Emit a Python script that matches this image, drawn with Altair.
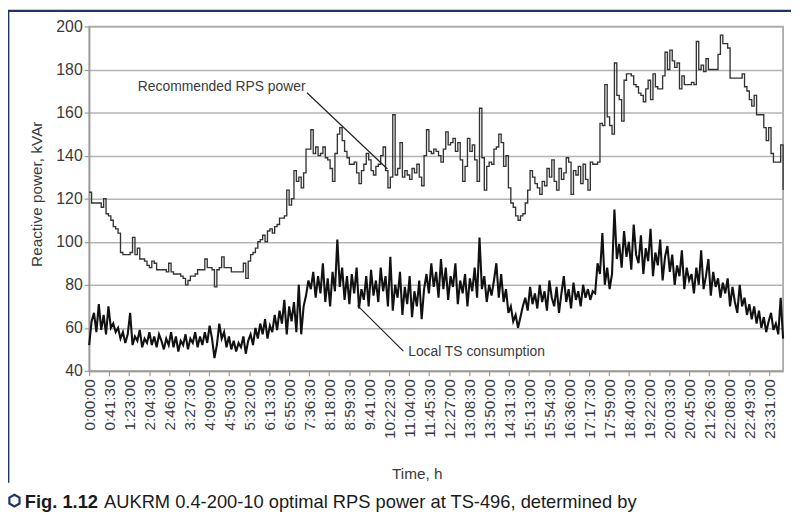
import altair as alt
import pandas as pd

FONT = "Liberation Sans, Arial, sans-serif"

# x grid: one reading every 5 minutes, 0 .. 1440 min
step_min = 5

# Recommended RPS power, kVAr (12 readings per hour)
rps_by_hour = [
    [123, 118, 118, 118, 118, 116, 120, 113, 112, 110, 107, 106],
    [104, 95, 94, 94, 94, 95, 102, 94, 97, 92, 92, 91],
    [89, 88, 91, 90, 87, 87, 87, 87, 86, 90, 86, 85],
    [85, 85, 84, 83, 80, 82, 84, 84, 85, 87, 87, 87],
    [92, 88, 88, 87, 79, 87, 88, 93, 88, 88, 88, 86],
    [86, 86, 86, 86, 90, 83, 91, 94, 95, 97, 100, 101],
    [103, 100, 105, 106, 104, 107, 108, 111, 111, 112, 124, 117],
    [120, 133, 128, 130, 125, 132, 143, 143, 152, 141, 144, 140],
    [141, 144, 139, 138, 134, 128, 141, 150, 153, 147, 142, 139],
    [136, 136, 137, 132, 127, 133, 136, 141, 138, 133, 131, 135],
    [136, 140, 144, 133, 125, 130, 159, 131, 134, 146, 130, 133],
    [131, 129, 134, 132, 136, 130, 126, 140, 152, 142, 141, 143],
    [142, 140, 137, 143, 151, 145, 146, 148, 142, 146, 138, 128],
    [135, 148, 142, 145, 138, 128, 162, 139, 124, 135, 137, 136],
    [143, 144, 150, 146, 135, 140, 125, 118, 116, 112, 110, 112],
    [113, 118, 124, 133, 130, 127, 125, 122, 128, 126, 134, 130],
    [138, 128, 124, 134, 129, 132, 139, 137, 122, 133, 131, 135],
    [127, 136, 129, 124, 137, 136, 136, 137, 155, 154, 173, 158],
    [154, 150, 183, 168, 166, 156, 175, 178, 178, 177, 173, 172],
    [169, 168, 165, 171, 175, 166, 178, 172, 171, 171, 177, 188],
    [180, 189, 184, 181, 183, 171, 177, 173, 173, 173, 174, 173],
    [193, 180, 182, 179, 185, 180, 180, 180, 180, 187, 196, 192],
    [192, 190, 176, 176, 176, 176, 176, 178, 172, 170, 166, 163],
    [168, 159, 159, 159, 153, 147, 153, 141, 137, 137, 137, 145],
]
rps_end = 124

# Local TS consumption, kVAr (12 readings per hour)
cons_by_hour = [
    [52, 63, 67, 58, 71, 59, 66, 57, 70, 60, 62, 58],
    [60, 55, 58, 53, 57, 67, 52, 56, 54, 59, 51, 55],
    [53, 58, 52, 56, 51, 57, 54, 50, 55, 52, 58, 51],
    [56, 49, 54, 52, 57, 50, 55, 53, 58, 51, 56, 52],
    [58, 53, 61, 55, 46, 52, 62, 55, 58, 51, 56, 50],
    [54, 49, 53, 51, 56, 48, 54, 57, 52, 60, 55, 62],
    [57, 64, 55, 61, 58, 66, 59, 68, 62, 73, 57, 70],
    [63, 72, 58, 80, 57, 70, 75, 82, 78, 86, 74, 84],
    [76, 90, 72, 83, 70, 86, 77, 101, 79, 88, 73, 84],
    [71, 85, 76, 88, 69, 78, 73, 84, 70, 87, 75, 82],
    [72, 88, 77, 84, 70, 93, 68, 80, 74, 86, 66, 79],
    [71, 84, 65, 77, 70, 82, 64, 78, 85, 76, 90, 79],
    [86, 74, 92, 78, 88, 73, 84, 79, 90, 71, 82, 76],
    [85, 70, 83, 77, 88, 74, 102, 78, 84, 72, 80, 75],
    [82, 90, 74, 85, 72, 78, 67, 70, 63, 66, 60, 65],
    [70, 74, 68, 79, 71, 76, 69, 80, 72, 77, 68, 82],
    [74, 70, 79, 67, 76, 84, 72, 78, 69, 81, 73, 77],
    [70, 80, 74, 78, 73, 77, 76, 90, 85, 104, 80, 88],
    [78, 85, 115, 92, 99, 88, 105, 93, 100, 87, 108, 94],
    [90, 103, 85, 97, 91, 106, 84, 95, 89, 101, 82, 93],
    [98, 86, 94, 80, 89, 84, 96, 78, 88, 82, 85, 76],
    [88, 80, 96, 78, 84, 92, 75, 86, 79, 83, 74, 81],
    [76, 83, 70, 79, 72, 67, 80, 70, 74, 66, 71, 64],
    [70, 62, 68, 60, 65, 58, 63, 67, 59, 62, 57, 74],
]
cons_end = 55

tick_labels = ["0:00:00", "0:41:30", "1:23:00", "2:04:30", "2:46:00", "3:27:30",
               "4:09:00", "4:50:30", "5:32:00", "6:13:30", "6:55:00", "7:36:30",
               "8:18:00", "8:59:30", "9:41:00", "10:22:30", "11:04:00", "11:45:30",
               "12:27:00", "13:08:30", "13:50:00", "14:31:30", "15:13:00", "15:54:30",
               "16:36:00", "17:17:30", "17:59:00", "18:40:30", "19:22:00", "20:03:30",
               "20:45:00", "21:26:30", "22:08:00", "22:49:30", "23:31:00"]
tick_step_min = 41.5
y_ticks = [40, 60, 80, 100, 120, 140, 160, 180, 200]

# annotations (minutes, kVAr)
ann_labels = ["Recommended RPS power", "Local TS consumption"]
ann_x = [275, 662]
ann_y = [172, 48.7]
lead_x = [452, 557]
lead_y = [169.2, 70.3]
lead_x2 = [619, 652]
lead_y2 = [133.8, 49.2]

caption_bold = "Fig. 1.12"
caption_rest = "AUKRM 0.4-200-10 optimal RPS power at TS-496, determined by"

# ---------------------------------------------------------------------------
rps = [v for h in rps_by_hour for v in h] + [rps_end]
cons = [v for h in cons_by_hour for v in h] + [cons_end]
minutes = [i * step_min for i in range(len(rps))]

df_rps = pd.DataFrame({"t": minutes, "v": rps})
df_cons = pd.DataFrame({"t": minutes, "v": cons})
df_ann = pd.DataFrame({"label": ann_labels, "t": ann_x, "v": ann_y})
df_lead = pd.DataFrame({"t": lead_x, "v": lead_y, "t2": lead_x2, "v2": lead_y2})
one = pd.DataFrame({"k": [0]})

tick_vals = [i * tick_step_min for i in range(len(tick_labels))]
label_expr = "[" + ",".join("'%s'" % s for s in tick_labels) + "][round(datum.value/%s)]" % tick_step_min

xscale = alt.Scale(domain=[0, 1440], nice=False, zero=False)
yscale = alt.Scale(domain=[40, 200], nice=False, zero=False)

x_axis = alt.Axis(
    values=tick_vals, labelExpr=label_expr, labelAngle=270, grid=False,
    labelOverlap=False, labelFontSize=15.5, labelPadding=3, labelSeparation=0,
    title="Time, h", titleX=331, titleY=104, titleBaseline="middle",
    titleAlign="center")
y_axis = alt.Axis(
    values=y_ticks, grid=True, labelFontSize=16, labelPadding=2,
    labelOverlap=False, title="Reactive power, kVAr",
    titleX=-53.5, titleY=169, titleAngle=270, titleAlign="center",
    titleBaseline="middle")

X = alt.X("t:Q", scale=xscale, axis=x_axis)
Y = alt.Y("v:Q", scale=yscale, axis=y_axis)

line_rps = alt.Chart(df_rps).mark_line(
    interpolate="step-after", color="#333333", strokeWidth=1.35
).encode(x=X, y=Y)

line_cons = alt.Chart(df_cons).mark_line(
    color="#111111", strokeWidth=2.1
).encode(x=X, y=Y)

leaders = alt.Chart(df_lead).mark_rule(color="#222", strokeWidth=1.2).encode(
    x=X, y=Y, x2="t2:Q", y2="v2:Q")

ann1 = alt.Chart(df_ann.iloc[[0]]).mark_text(
    align="center", baseline="middle", font=FONT, fontSize=14, color="#3a3a3a"
).encode(x=X, y=Y, text="label:N")
ann2 = alt.Chart(df_ann.iloc[[1]]).mark_text(
    align="left", baseline="middle", font=FONT, fontSize=14, color="#3a3a3a"
).encode(x=X, y=Y, text="label:N")

NAVY = "#1d3762"
frame_v = alt.Chart(one).mark_rule(color=NAVY, strokeWidth=2.2).encode(
    x=alt.value(-81.7), y=alt.value(-16.5), y2=alt.value(461))
frame_h = alt.Chart(one).mark_rule(color=NAVY, strokeWidth=2.2).encode(
    x=alt.value(-82.8), x2=alt.value(712), y=alt.value(-15.7))

hexagon = alt.Chart(one).mark_point(
    shape="M0,-1L0.866,-0.5L0.866,0.5L0,1L-0.866,0.5L-0.866,-0.5Z",
    size=140, filled=False, stroke=NAVY, strokeWidth=2.2, opacity=1
).encode(x=alt.value(-75.5), y=alt.value(479))

cap1 = alt.Chart(one).mark_text(
    align="left", baseline="alphabetic", font=FONT, fontSize=18.5,
    fontWeight="bold", color="#1a1a1a"
).encode(x=alt.value(-65), y=alt.value(486), text=alt.value(caption_bold))
cap2 = alt.Chart(one).mark_text(
    align="left", baseline="alphabetic", font=FONT, fontSize=18.5, color="#1a1a1a"
).encode(x=alt.value(15), y=alt.value(486), text=alt.value(caption_rest))

chart = alt.layer(
    line_rps, line_cons, leaders, ann1, ann2,
    frame_v, frame_h, hexagon, cap1, cap2
).properties(
    width=701, height=348,
    autosize=alt.AutoSizeParams(type="none"),
    padding={"left": 82, "top": 16, "right": 8, "bottom": 150},
    background="white",
).configure_view(
    stroke="#9a9a9a", strokeWidth=1.5
).configure_axis(
    labelFont=FONT, titleFont=FONT, labelColor="#3a3a3a", titleColor="#3a3a3a",
    titleFontSize=15.5, titleFontWeight="normal",
    domainColor="#9a9a9a", domainWidth=1.5, tickColor="#9a9a9a", tickWidth=1.2,
    tickSize=5, gridColor="#b4b4b4", gridWidth=1.5, labelOverlap=False
)

chart.save("out.html", embed_options={"renderer": "svg", "actions": False})
